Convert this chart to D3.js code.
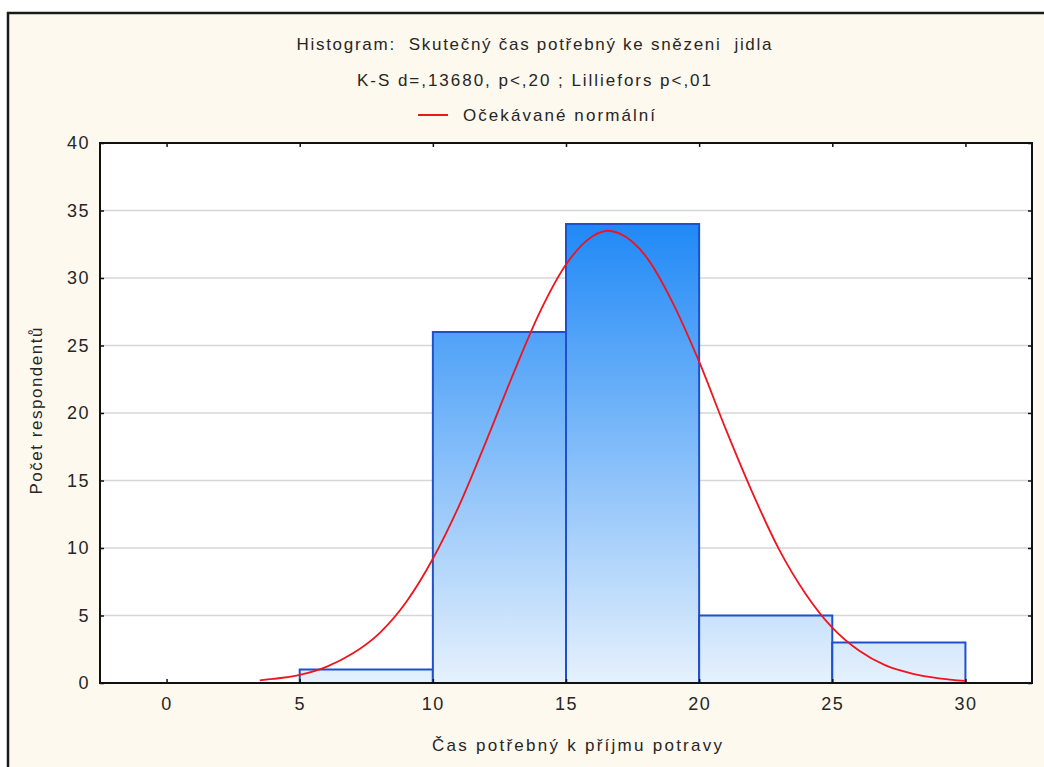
<!DOCTYPE html>
<html>
<head>
<meta charset="utf-8">
<script src="https://cdn.jsdelivr.net/npm/d3@7"></script>
<style>
  html, body { margin: 0; padding: 0; background: #fff; }
  svg text { font-family: "Liberation Sans", Arial, sans-serif; fill: #262626; white-space: pre; }
</style>
</head>
<body>
<div id="chart"></div>
<script>
// histogram bins (bin start, bin end, count)
const binStarts = [5, 10, 15, 20, 25]
const binEnds = [10, 15, 20, 25, 30]
const counts = [1, 26, 34, 5, 3]

// expected normal curve
const curveX = [3.5, 4, 5, 6, 7, 8, 9, 10, 11, 12, 13, 14, 15, 16, 16.6, 17, 18, 19, 20, 21, 22, 23, 24, 25, 26, 27, 28, 29, 30]
const curveY = [0.2, 0.3, 0.6, 1.2, 2.2, 3.7, 6.0, 9.2, 13.2, 17.9, 22.8, 27.4, 31.0, 33.1, 33.5, 33.3, 31.6, 28.2, 23.8, 18.8, 14.1, 9.9, 6.6, 4.1, 2.4, 1.3, 0.7, 0.35, 0.16]

const xTicks = [0, 5, 10, 15, 20, 25, 30]
const yTicks = [0, 5, 10, 15, 20, 25, 30, 35, 40]

const titleLines = ["Histogram:  Skutečný čas potřebný ke snězeni  jidla", "K-S d=,13680, p<,20 ; Lilliefors p<,01"]
const legendLabel = "Očekávané normální"
const xLabel = "Čas potřebný k příjmu potravy"
const yLabel = "Počet respondentů"

const width = 1044
const height = 767
const margin = ({ top: 143, right: 12, bottom: 84, left: 100 })

const svg = d3.select("#chart")
    .append("svg")
    .attr("width", width)
    .attr("height", height)

// page background and outer frame
svg.append("rect")
    .attr("x", 8).attr("y", 13)
    .attr("width", width + 10).attr("height", height + 10)
    .attr("fill", "#fef9ee")
    .attr("stroke", "#1a1a1a")
    .attr("stroke-width", 2.5)

const xScale = d3.scaleLinear()
    .domain([-2.5, 32.5])
    .range([margin.left, width - margin.right])

const yScale = d3.scaleLinear()
    .domain([0, 40])
    .range([height - margin.bottom, margin.top])

const x0 = xScale.range()[0], x1 = xScale.range()[1]
const y0 = yScale.range()[0], y1 = yScale.range()[1]

// plot area
svg.append("rect")
    .attr("x", x0).attr("y", y1)
    .attr("width", x1 - x0).attr("height", y0 - y1)
    .attr("fill", "#fff")

// gradient for the bars, runs over the whole plot height
const grad = svg.append("defs").append("linearGradient")
    .attr("id", "barGrad")
    .attr("gradientUnits", "userSpaceOnUse")
    .attr("x1", 0).attr("x2", 0)
    .attr("y1", yScale(34)).attr("y2", yScale(0))
grad.append("stop").attr("offset", "0%").attr("stop-color", "#2089f6")
grad.append("stop").attr("offset", "100%").attr("stop-color", "#e6f1fd")

// horizontal grid
svg.append("g")
    .selectAll("line")
    .data(yTicks.filter(d => d > 0 && d < 40))
    .enter().append("line")
    .attr("x1", x0).attr("x2", x1)
    .attr("y1", d => yScale(d)).attr("y2", d => yScale(d))
    .attr("stroke", "#d6d6d6")
    .attr("stroke-width", 1.5)

// bars
svg.append("g")
    .selectAll("rect")
    .data(counts)
    .enter().append("rect")
    .attr("x", (d, i) => xScale(binStarts[i]))
    .attr("y", d => yScale(d))
    .attr("width", (d, i) => xScale(binEnds[i]) - xScale(binStarts[i]))
    .attr("height", d => yScale(0) - yScale(d))
    .attr("fill", "url(#barGrad)")
    .attr("stroke", "#1f50cc")
    .attr("stroke-width", 2)

// normal curve
const line = d3.line()
    .x(d => xScale(d[0]))
    .y(d => yScale(d[1]))
    .curve(d3.curveMonotoneX)

svg.append("path")
    .datum(d3.zip(curveX, curveY))
    .attr("d", line)
    .attr("fill", "none")
    .attr("stroke", "#f0141e")
    .attr("stroke-width", 1.8)

// axes: ticks pointing inside on all four sides
const fontSize = "17px"
const bottomAxis = d3.axisBottom(xScale).tickValues(xTicks).tickSizeInner(-4).tickSizeOuter(0).tickPadding(14)
const topAxis = d3.axisTop(xScale).tickValues(xTicks).tickSizeInner(-4).tickSizeOuter(0).tickFormat("")
const leftAxis = d3.axisLeft(yScale).tickValues(yTicks).tickSizeInner(-4).tickSizeOuter(0).tickPadding(10)
const rightAxis = d3.axisRight(yScale).tickValues(yTicks).tickSizeInner(-4).tickSizeOuter(0).tickFormat("")

svg.append("g").attr("transform", `translate(0, ${y0})`).call(bottomAxis)
svg.append("g").attr("transform", `translate(0, ${y1})`).call(topAxis)
svg.append("g").attr("transform", `translate(${x0}, 0)`).call(leftAxis)
svg.append("g").attr("transform", `translate(${x1}, 0)`).call(rightAxis)

svg.selectAll(".domain").remove()
svg.selectAll(".tick line").attr("stroke", "#111").attr("stroke-width", 1.5)
svg.selectAll(".tick text")
    .style("font-family", "Liberation Sans, Arial, sans-serif")
    .style("font-size", "18px")
    .style("letter-spacing", "1.5px")
    .attr("fill", "#333")

// plot border
svg.append("rect")
    .attr("x", x0).attr("y", y1)
    .attr("width", x1 - x0).attr("height", y0 - y1)
    .attr("fill", "none")
    .attr("stroke", "#111")
    .attr("stroke-width", 2)

// titles
const titleWidths = [475, 354]
svg.selectAll(".title")
    .data(titleLines)
    .enter().append("text")
    .attr("class", "title")
    .attr("x", 534)
    .attr("y", (d, i) => 50 + i * 36)
    .attr("text-anchor", "middle")
    .attr("textLength", (d, i) => titleWidths[i])
    .attr("lengthAdjust", "spacing")
    .style("font-size", fontSize)
    .text(d => d)

// legend
svg.append("line")
    .attr("x1", 418).attr("x2", 448)
    .attr("y1", 115).attr("y2", 115)
    .attr("stroke", "#f0141e")
    .attr("stroke-width", 2)
svg.append("text")
    .attr("x", 463).attr("y", 121)
    .attr("textLength", 192)
    .attr("lengthAdjust", "spacing")
    .style("font-size", fontSize)
    .text(legendLabel)

// axis labels
svg.append("text")
    .attr("x", 577).attr("y", 751)
    .attr("text-anchor", "middle")
    .attr("textLength", 290)
    .attr("lengthAdjust", "spacing")
    .style("font-size", fontSize)
    .text(xLabel)

svg.append("text")
    .attr("transform", "translate(42, 411) rotate(-90)")
    .attr("text-anchor", "middle")
    .attr("textLength", 167)
    .attr("lengthAdjust", "spacing")
    .style("font-size", fontSize)
    .text(yLabel)
</script>
</body>
</html>
